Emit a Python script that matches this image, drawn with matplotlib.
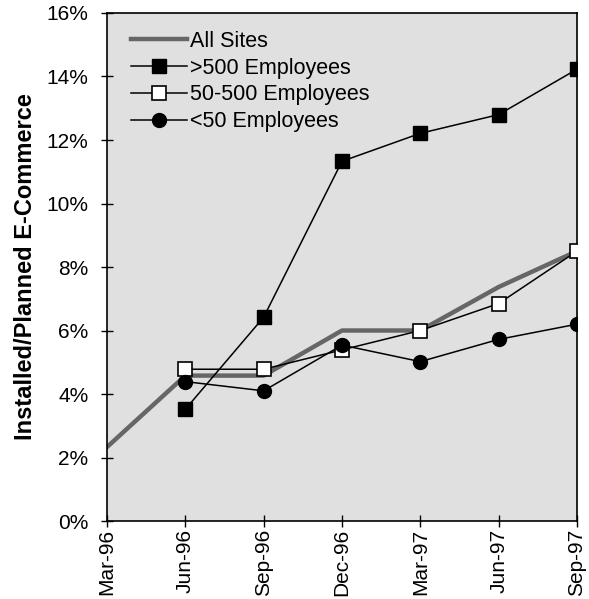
import numpy as np
import matplotlib.pyplot as plt
from matplotlib.ticker import PercentFormatter

plt.rcParams['font.family'] = ['Liberation Sans', 'DejaVu Sans']

quarters = ['Mar-96', 'Jun-96', 'Sep-96', 'Dec-96', 'Mar-97', 'Jun-97', 'Sep-97']
all_sites = [2.33, 4.58, 4.58, 6.0, 6.0, 7.37, 8.5]
large = [np.nan, 3.52, 6.42, 11.33, 12.21, 12.8, 14.23]
medium = [np.nan, 4.78, 4.78, 5.39, 6.0, 6.85, 8.5]
small = [np.nan, 4.39, 4.1, 5.54, 5.02, 5.72, 6.2]

x = np.arange(len(quarters))

fig = plt.figure(figsize=(5.89, 5.99), dpi=100)
ax = fig.add_axes([0.1817, 0.1302, 0.7979, 0.8481])
ax.set_facecolor('#e0e0e0')

ax.plot(x, all_sites, color='#666666', lw=3.2, label='All Sites', zorder=2)
ax.plot(x, large, color='black', lw=1.1, marker='s', ms=10, mfc='black',
        mec='black', label='>500 Employees', zorder=3)
ax.plot(x, medium, color='black', lw=1.1, marker='s', ms=10, mfc='white',
        mec='black', mew=1.2, label='50-500 Employees', zorder=4)
ax.plot(x, small, color='black', lw=1.1, marker='o', ms=10, mfc='black',
        mec='black', label='<50 Employees', zorder=5)

ax.set_xlim(0, len(quarters) - 1)
ax.set_ylim(0, 16)
ax.set_yticks(np.arange(0, 17, 2))
ax.yaxis.set_major_formatter(PercentFormatter(decimals=0))
ax.set_xticks(x)
ax.set_xticklabels(quarters, rotation=90)
ax.tick_params(direction='inout', length=9, width=1, labelsize=15, colors='black')
ax.tick_params(axis='y', pad=9)
ax.tick_params(axis='x', pad=1)

for sp in ax.spines.values():
    sp.set_color('black')
    sp.set_linewidth(1.2)

ax.set_ylabel('Installed/Planned E-Commerce', fontsize=17, fontweight='bold', labelpad=7)

ax.legend(loc='upper left', bbox_to_anchor=(0.052, 0.965), frameon=False,
          fontsize=15.5, handlelength=2.6, handletextpad=0.1, labelspacing=0.27,
          borderaxespad=0, borderpad=0)

fig.savefig('out.png', dpi=100)
